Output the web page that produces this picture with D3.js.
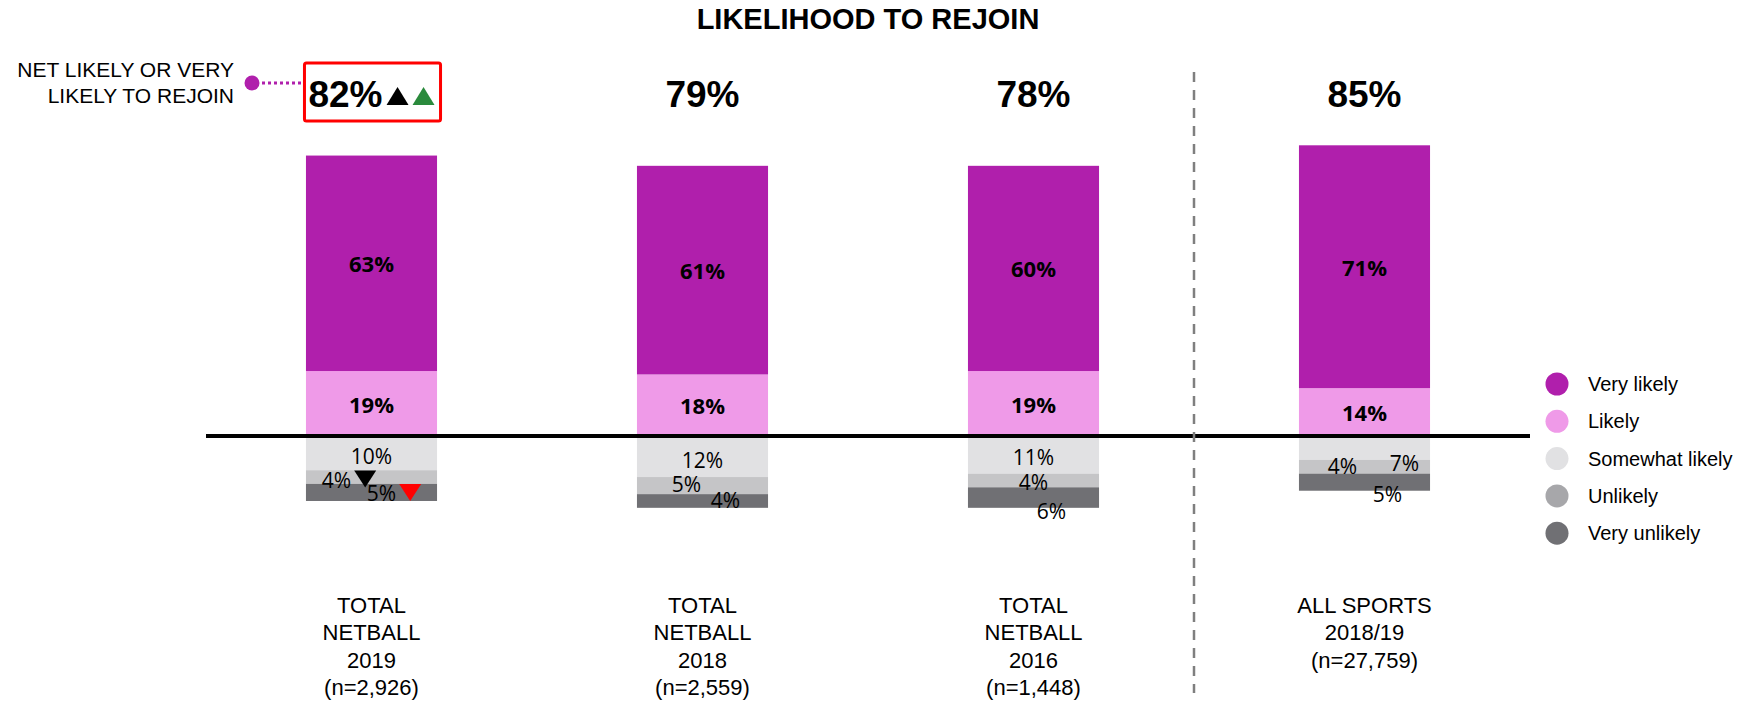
<!DOCTYPE html>
<html>
<head>
<meta charset="utf-8">
<script src="https://cdn.jsdelivr.net/npm/d3@7"></script>
<style>
  body { margin: 0; background: #fff; }
  svg { display: block; }
</style>
</head>
<body>
<div id="chart"></div>
<script>
// chart data
const categories = ["TOTAL NETBALL 2019", "TOTAL NETBALL 2018", "TOTAL NETBALL 2016", "ALL SPORTS 2018/19"];
const categoryLines = [
  ["TOTAL", "NETBALL", "2019", "(n=2,926)"],
  ["TOTAL", "NETBALL", "2018", "(n=2,559)"],
  ["TOTAL", "NETBALL", "2016", "(n=1,448)"],
  ["ALL SPORTS", "2018/19", "(n=27,759)"]
];
const seriesNames = ["Very likely", "Likely", "Somewhat likely", "Unlikely", "Very unlikely"];
const veryLikely = [63, 61, 60, 71];
const likely = [19, 18, 19, 14];
const somewhatLikely = [10, 12, 11, 7];
const unlikely = [4, 5, 4, 4];
const veryUnlikely = [5, 4, 6, 5];
const netLikely = [82, 79, 78, 85];

// colours
const barColors = ["#b01fac", "#ef9ae8", "#e1e1e3", "#c5c5c7", "#707074"];
const legendColors = ["#b01fac", "#ef9ae8", "#e1e1e3", "#a7a7aa", "#707074"];

// little label shifts below the line (as in the original, labels dodge each other)
const belowNudge = [
  [[0, 3], [-35, 3], [10, 1]],
  [[0, 3], [-16, -2], [23, -1]],
  [[0, 2], [0, 2], [18, 13]],
  [[40, 15], [-22, -1], [23, 12]]
];

const W = 1758, H = 702;
const svg = d3.select("#chart").append("svg")
  .attr("width", W)
  .attr("height", H);

const x = d3.scaleBand()
  .domain(categories)
  .range([206, 1530])
  .paddingInner(0.604)
  .paddingOuter(0.302);

// zero line sits at y=436
const y = d3.scaleLinear()
  .domain([0, 100])
  .range([436, 94]);

const above = [veryLikely, likely];
const below = [somewhatLikely, unlikely, veryUnlikely];

// title
svg.append("text")
  .attr("x", 868).attr("y", 29)
  .attr("text-anchor", "middle")
  .style("font-family", "Liberation Sans, Arial, sans-serif")
  .style("font-weight", "bold")
  .style("font-size", "29px")
  .text("LIKELIHOOD TO REJOIN");

categories.forEach((c, i) => {
  const x0 = x(c), bw = x.bandwidth(), cx = x0 + bw / 2;

  // stacked up from zero: very likely on top of likely
  let base = 0;
  [1, 0].forEach(s => {
    const v = above[s][i];
    svg.append("rect")
      .attr("x", x0).attr("width", bw)
      .attr("y", y(base + v)).attr("height", y(base) - y(base + v))
      .attr("fill", barColors[s]);
    svg.append("text")
      .attr("x", cx).attr("y", (y(base) + y(base + v)) / 2)
      .attr("text-anchor", "middle")
      .attr("dominant-baseline", "central")
      .style("font-family", "Open Sans, sans-serif")
      .style("font-weight", "bold")
      .style("font-size", "22px")
      .text(v + "%");
    base += v;
  });

  // stacked down from zero
  base = 0;
  below.forEach((arr, s) => {
    const v = arr[i];
    svg.append("rect")
      .attr("x", x0).attr("width", bw)
      .attr("y", y(-base)).attr("height", y(-base - v) - y(-base))
      .attr("fill", barColors[s + 2]);
    base += v;
  });
  base = 0;
  below.forEach((arr, s) => {
    const v = arr[i];
    const nd = belowNudge[i][s];
    const t = svg.append("text")
      .attr("class", "below-" + i + "-" + s)
      .attr("x", cx + nd[0]).attr("y", (y(-base) + y(-base - v)) / 2 + nd[1])
      .attr("text-anchor", "middle")
      .attr("dominant-baseline", "central")
      .style("font-family", "Open Sans, sans-serif")
      .style("font-size", "21px")
      .text(v + "%");
    base += v;
  });

  // category label
  const lab = svg.append("text")
    .attr("text-anchor", "middle")
    .style("font-family", "Liberation Sans, Arial, sans-serif")
    .style("font-size", "22px");
  categoryLines[i].forEach((ln, k) => {
    lab.append("tspan").attr("x", cx).attr("y", 613 + k * 27.3).text(ln);
  });
});

// triangle path helper
function tri(cx, cy, w, h, up) {
  const d = up ? -1 : 1;
  return `M${cx - w / 2},${cy - d * h / 2}L${cx + w / 2},${cy - d * h / 2}L${cx},${cy + d * h / 2}Z`;
}

// net likely labels on top
categories.forEach((c, i) => {
  const cx = x(c) + x.bandwidth() / 2;
  const t = svg.append("text")
    .attr("y", 107)
    .style("font-family", "Liberation Sans, Arial, sans-serif")
    .style("font-weight", "bold")
    .style("font-size", "37px")
    .text(netLikely[i] + "%");
  const tw = t.node().getComputedTextLength();
  if (i === 0) {
    // significance arrows after the first net figure
    const total = tw + 4 + 22 + 4 + 22;
    const sx = cx - total / 2;
    t.attr("x", sx);
    svg.append("path").attr("d", tri(sx + tw + 4 + 11, 96, 22, 18, true)).attr("fill", "#000");
    svg.append("path").attr("d", tri(sx + tw + 30 + 11, 96, 22, 18, true)).attr("fill", "#2a8a3c");
    svg.append("rect")
      .attr("x", sx - 4).attr("y", 63)
      .attr("width", total + 10).attr("height", 58)
      .attr("fill", "none")
      .attr("stroke", "#ff0000")
      .attr("stroke-width", 3)
      .attr("rx", 2);
  } else {
    t.attr("x", cx).attr("text-anchor", "middle");
  }
});

// down arrows next to the first bar's bottom labels
[[1, "#000"], [2, "#ff0000"]].forEach(([s, col]) => {
  const node = svg.select(".below-0-" + s).node();
  const bb = node.getBBox();
  svg.append("path")
    .attr("d", tri(bb.x + bb.width + 14, bb.y + bb.height / 2 - 1, 22, 17, false))
    .attr("fill", col);
});

// zero line
svg.append("line")
  .attr("x1", 206).attr("x2", 1530)
  .attr("y1", y(0)).attr("y2", y(0))
  .attr("stroke", "#000")
  .attr("stroke-width", 4);

// divider between netball and all sports
const divX = (x(categories[2]) + x.bandwidth() + x(categories[3])) / 2 - 5;
svg.append("line")
  .attr("x1", divX).attr("x2", divX)
  .attr("y1", 72).attr("y2", 693)
  .attr("stroke", "#7f7f7f")
  .attr("stroke-width", 2.5)
  .attr("stroke-dasharray", "10,8");

// left annotation
const ann = svg.append("text")
  .attr("text-anchor", "end")
  .style("font-family", "Liberation Sans, Arial, sans-serif")
  .style("font-size", "21px");
ann.append("tspan").attr("x", 234).attr("y", 77).text("NET LIKELY OR VERY");
ann.append("tspan").attr("x", 234).attr("y", 103).text("LIKELY TO REJOIN");
svg.append("line")
  .attr("x1", 262).attr("x2", 303)
  .attr("y1", 83).attr("y2", 83)
  .attr("stroke", "#b01fac")
  .attr("stroke-width", 3)
  .attr("stroke-dasharray", "3,3");
svg.append("circle")
  .attr("cx", 252).attr("cy", 83).attr("r", 7.5)
  .attr("fill", "#b01fac");

// legend
const legend = svg.append("g");
seriesNames.forEach((n, k) => {
  const ly = 384 + k * 37.3;
  legend.append("circle")
    .attr("cx", 1557).attr("cy", ly).attr("r", 11.5)
    .attr("fill", legendColors[k]);
  legend.append("text")
    .attr("x", 1588).attr("y", ly)
    .attr("dominant-baseline", "central")
    .style("font-family", "Liberation Sans, Arial, sans-serif")
    .style("font-size", "20px")
    .text(n);
});
</script>
</body>
</html>
